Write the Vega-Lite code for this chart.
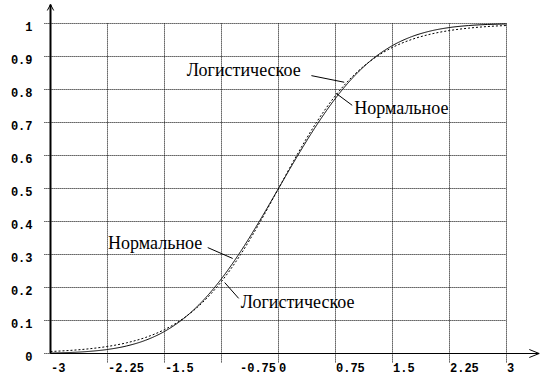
{
  "$schema": "https://vega.github.io/schema/vega-lite/v6.json",
  "width": 543,
  "height": 378,
  "autosize": "none",
  "padding": 0,
  "background": "white",
  "config": {"view": {"stroke": null}},
  "datasets": {
    "curves": [
      {"x": -3, "y": 0.00135, "s": "Нормальное"},
      {"x": -2.75, "y": 0.00298, "s": "Нормальное"},
      {"x": -2.5, "y": 0.00621, "s": "Нормальное"},
      {"x": -2.25, "y": 0.01222, "s": "Нормальное"},
      {"x": -2, "y": 0.02275, "s": "Нормальное"},
      {"x": -1.75, "y": 0.04006, "s": "Нормальное"},
      {"x": -1.5, "y": 0.06681, "s": "Нормальное"},
      {"x": -1.25, "y": 0.10565, "s": "Нормальное"},
      {"x": -1, "y": 0.15866, "s": "Нормальное"},
      {"x": -0.75, "y": 0.22663, "s": "Нормальное"},
      {"x": -0.5, "y": 0.30854, "s": "Нормальное"},
      {"x": -0.25, "y": 0.40129, "s": "Нормальное"},
      {"x": 0, "y": 0.5, "s": "Нормальное"},
      {"x": 0.25, "y": 0.59871, "s": "Нормальное"},
      {"x": 0.5, "y": 0.69146, "s": "Нормальное"},
      {"x": 0.75, "y": 0.77337, "s": "Нормальное"},
      {"x": 1, "y": 0.84134, "s": "Нормальное"},
      {"x": 1.25, "y": 0.89435, "s": "Нормальное"},
      {"x": 1.5, "y": 0.93319, "s": "Нормальное"},
      {"x": 1.75, "y": 0.95994, "s": "Нормальное"},
      {"x": 2, "y": 0.97725, "s": "Нормальное"},
      {"x": 2.25, "y": 0.98778, "s": "Нормальное"},
      {"x": 2.5, "y": 0.99379, "s": "Нормальное"},
      {"x": 2.75, "y": 0.99702, "s": "Нормальное"},
      {"x": 3, "y": 0.99865, "s": "Нормальное"},
      {"x": -3, "y": 0.00606, "s": "Логистическое"},
      {"x": -2.75, "y": 0.00924, "s": "Логистическое"},
      {"x": -2.5, "y": 0.01406, "s": "Логистическое"},
      {"x": -2.25, "y": 0.02135, "s": "Логистическое"},
      {"x": -2, "y": 0.0323, "s": "Логистическое"},
      {"x": -1.75, "y": 0.04857, "s": "Логистическое"},
      {"x": -1.5, "y": 0.0724, "s": "Логистическое"},
      {"x": -1.25, "y": 0.1067, "s": "Логистическое"},
      {"x": -1, "y": 0.1545, "s": "Логистическое"},
      {"x": -0.75, "y": 0.2184, "s": "Логистическое"},
      {"x": -0.5, "y": 0.2994, "s": "Логистическое"},
      {"x": -0.25, "y": 0.3953, "s": "Логистическое"},
      {"x": 0, "y": 0.5, "s": "Логистическое"},
      {"x": 0.25, "y": 0.6047, "s": "Логистическое"},
      {"x": 0.5, "y": 0.7006, "s": "Логистическое"},
      {"x": 0.75, "y": 0.7816, "s": "Логистическое"},
      {"x": 1, "y": 0.8455, "s": "Логистическое"},
      {"x": 1.25, "y": 0.8933, "s": "Логистическое"},
      {"x": 1.5, "y": 0.9276, "s": "Логистическое"},
      {"x": 1.75, "y": 0.9514, "s": "Логистическое"},
      {"x": 2, "y": 0.9677, "s": "Логистическое"},
      {"x": 2.25, "y": 0.9787, "s": "Логистическое"},
      {"x": 2.5, "y": 0.9859, "s": "Логистическое"},
      {"x": 2.75, "y": 0.9908, "s": "Логистическое"},
      {"x": 3, "y": 0.9939, "s": "Логистическое"}
    ],
    "vgrid": [
      {"x": -2.25, "y": -0.027, "y2": 1},
      {"x": -1.5, "y": -0.027, "y2": 1},
      {"x": -0.75, "y": -0.027, "y2": 1},
      {"x": 0, "y": -0.027, "y2": 1},
      {"x": 0.75, "y": -0.027, "y2": 1},
      {"x": 1.5, "y": -0.027, "y2": 1},
      {"x": 2.25, "y": -0.027, "y2": 1},
      {"x": 3, "y": -0.027, "y2": 1}
    ],
    "hgrid": [
      {"y": 0, "x": -3.08, "x2": 3},
      {"y": 0.1, "x": -3.08, "x2": 3},
      {"y": 0.2, "x": -3.08, "x2": 3},
      {"y": 0.3, "x": -3.08, "x2": 3},
      {"y": 0.4, "x": -3.08, "x2": 3},
      {"y": 0.5, "x": -3.08, "x2": 3},
      {"y": 0.6, "x": -3.08, "x2": 3},
      {"y": 0.7, "x": -3.08, "x2": 3},
      {"y": 0.8, "x": -3.08, "x2": 3},
      {"y": 0.9, "x": -3.08, "x2": 3},
      {"y": 1, "x": -3.08, "x2": 3}
    ],
    "axes": [
      {"x": -3, "y": 0, "x2": 3.43, "y2": 0, "w": 1},
      {"x": -3, "y": 0, "x2": -3, "y2": 1.0576, "w": 2}
    ],
    "arrows": [
      {"a": "x", "o": 1, "x": 3.30, "y": 0.0121},
      {"a": "x", "o": 2, "x": 3.43, "y": 0},
      {"a": "x", "o": 3, "x": 3.30, "y": -0.0121},
      {"a": "y", "o": 1, "x": -3.042, "y": 1.0394},
      {"a": "y", "o": 2, "x": -3.0, "y": 1.0576},
      {"a": "y", "o": 3, "x": -2.958, "y": 1.0394}
    ],
    "leaders": [
      {"x": 0.433, "y": 0.842, "x2": 0.865, "y2": 0.822},
      {"x": 0.76, "y": 0.788, "x2": 0.97, "y2": 0.752},
      {"x": -0.931, "y": 0.321, "x2": -0.603, "y2": 0.288},
      {"x": -0.708, "y": 0.215, "x2": -0.524, "y2": 0.167}
    ],
    "labels": [
      {"x": -1.206, "y": 0.855, "t": "Логистическое"},
      {"x": 0.996, "y": 0.742, "t": "Нормальное"},
      {"x": -2.242, "y": 0.333, "t": "Нормальное"},
      {"x": -0.498, "y": 0.152, "t": "Логистическое"}
    ]
  },
  "encoding": {
    "x": {
      "field": "x",
      "type": "quantitative",
      "scale": {"domain": [-3.66447, 3.48026], "nice": false, "zero": false},
      "axis": {
        "orient": "bottom",
        "offset": -24.5,
        "values": [-3, -2.25, -1.5, -0.75, 0, 0.75, 1.5, 2.25, 3],
        "labelExpr": "datum.value + ''",
        "domain": false,
        "ticks": false,
        "grid": false,
        "title": null,
        "labelAlign": "left",
        "labelBaseline": "top",
        "labelPadding": 9,
        "labelFont": "Liberation Mono",
        "labelFontWeight": "bold",
        "labelFontSize": 12,
        "labelColor": "black",
        "labelOverlap": false,
        "labelFlush": false,
        "labelBound": false,
        "labelOffset": {"condition": {"test": "datum.value == -0.75", "value": 18}, "value": 0}
      }
    },
    "y": {
      "field": "y",
      "type": "quantitative",
      "scale": {"domain": [-0.074242, 1.071212], "nice": false, "zero": false},
      "axis": {
        "orient": "left",
        "offset": -50,
        "values": [0, 0.1, 0.2, 0.3, 0.4, 0.5, 0.6, 0.7, 0.8, 0.9, 1],
        "labelExpr": "datum.value + ''",
        "domain": false,
        "ticks": false,
        "grid": false,
        "title": null,
        "labelAlign": "right",
        "labelBaseline": "middle",
        "labelPadding": 18,
        "labelOffset": 3,
        "labelFont": "Liberation Mono",
        "labelFontWeight": "bold",
        "labelFontSize": 12,
        "labelColor": "black",
        "labelOverlap": false,
        "labelFlush": false,
        "labelBound": false
      }
    }
  },
  "layer": [
    {
      "data": {"name": "vgrid"},
      "mark": {"type": "rule", "color": "black", "strokeWidth": 1, "strokeDash": [1, 1]},
      "encoding": {"y2": {"field": "y2"}}
    },
    {
      "data": {"name": "hgrid"},
      "mark": {"type": "rule", "color": "black", "strokeWidth": 1, "strokeDash": [1, 1]},
      "encoding": {"x2": {"field": "x2"}}
    },
    {
      "data": {"name": "axes"},
      "mark": {"type": "rule", "color": "black"},
      "encoding": {
        "x2": {"field": "x2"},
        "y2": {"field": "y2"},
        "strokeWidth": {"field": "w", "type": "quantitative", "scale": null}
      }
    },
    {
      "data": {"name": "arrows"},
      "mark": {"type": "line", "color": "black", "strokeWidth": 1},
      "encoding": {
        "detail": {"field": "a"},
        "order": {"field": "o"}
      }
    },
    {
      "data": {"name": "curves"},
      "mark": {"type": "line", "color": "black", "strokeWidth": 1, "interpolate": "monotone"},
      "encoding": {
        "detail": {"field": "s"},
        "strokeDash": {
          "field": "s",
          "type": "nominal",
          "scale": {"domain": ["Нормальное", "Логистическое"], "range": [[1, 0], [2, 2]]},
          "legend": null
        }
      }
    },
    {
      "data": {"name": "leaders"},
      "mark": {"type": "rule", "color": "black", "strokeWidth": 1},
      "encoding": {"x2": {"field": "x2"}, "y2": {"field": "y2"}}
    },
    {
      "data": {"name": "labels"},
      "mark": {"type": "text", "align": "left", "baseline": "middle", "font": "Liberation Serif", "fontSize": 18, "color": "black"},
      "encoding": {"text": {"field": "t"}}
    }
  ]
}
